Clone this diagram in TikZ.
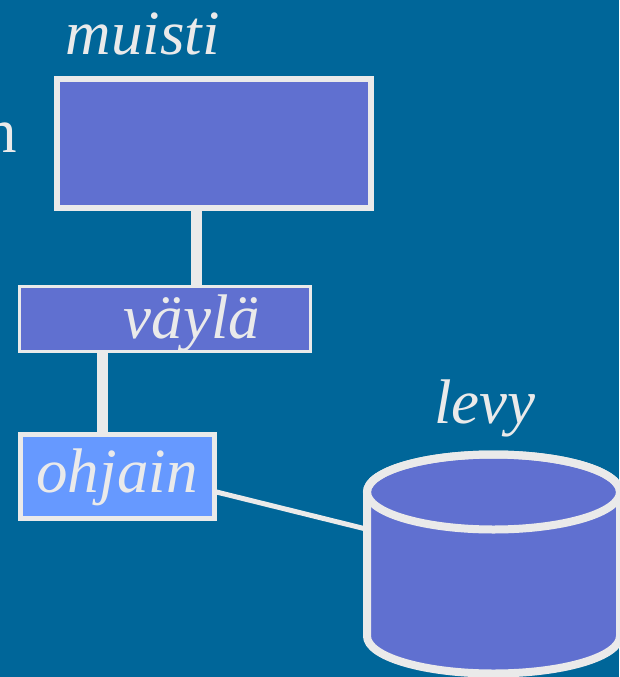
\documentclass[tikz,border=0pt]{standalone}
\usepackage{fontspec}
\setmainfont{Liberation Serif}
\definecolor{slide}{RGB}{0,102,153}
\definecolor{boxblue}{RGB}{96,112,208}
\definecolor{ctrlblue}{RGB}{102,153,255}
\definecolor{edge}{RGB}{234,234,234}

\begin{document}
\begin{tikzpicture}[x=1pt,y=-1pt,
	lbl/.style={text=edge,font=\fontsize{63}{70}\selectfont\itshape,inner sep=0pt},
	unit/.style={draw=edge,fill=boxblue,line width=6pt,inner sep=0pt},
	bus/.style={draw=edge,line width=11pt},
	wire/.style={draw=edge,line width=5pt}]
		% slide background
		\fill[slide] (0,0) rectangle (619,677);
		\useasboundingbox (0,0) rectangle (619,677);
		% units
		\node[unit,minimum width=314pt,minimum height=129pt] (muisti) at (214,143.5) {};
		\node[unit,line width=3pt,minimum width=291pt,minimum height=64.5pt] (vayla) at (165,318.75) {};
		\node[unit,lbl,draw=edge,fill=ctrlblue,line width=5pt,minimum width=194pt,minimum height=84pt,text depth=10pt] (ohjain) at (117,476) {ohjain};
		% titles
		\node[lbl,anchor=base] (muistiT) at (143,55) {muisti};
		\node[lbl,anchor=base] (vaylaT) at (192,338) {väylä};
		\node[lbl,anchor=base] (levyT) at (485,423) {levy};
		\node[lbl,font=\fontsize{63}{70}\selectfont,anchor=base east] (cut) at (17,152) {n};
		% connections
		\coordinate (busA) at (196,0);
		\coordinate (busB) at (102,0);
		\coordinate (levyL) at (366,529);
		\path[bus] (muisti.south -| busA) -- (vayla.north -| busA);
		\path[bus] (vayla.south -| busB) -- (ohjain.north -| busB);
		\path[wire] ([yshift=-16pt]ohjain.east) -- (levyL);
		% disk
		\filldraw[draw=edge,fill=boxblue,line width=8pt]
			(367,492) -- (367,636) arc[start angle=180,end angle=0,x radius=126.5,y radius=37.5]
			-- (620,492) arc[start angle=0,end angle=-180,x radius=126.5,y radius=37.5] -- cycle;
		\draw[edge,line width=8pt] (493.5,492) ellipse[x radius=126.5,y radius=37.5];
	\end{tikzpicture}
\end{document}
